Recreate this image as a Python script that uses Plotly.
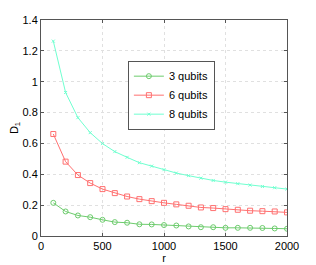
import plotly.graph_objects as go

r = [100, 200, 300, 400, 500, 600, 700, 800, 900, 1000,
     1100, 1200, 1300, 1400, 1500, 1600, 1700, 1800, 1900, 2000]
d3 = [0.215, 0.159, 0.133, 0.122, 0.105, 0.090, 0.086, 0.076, 0.075, 0.071,
      0.068, 0.062, 0.057, 0.057, 0.053, 0.053, 0.053, 0.052, 0.049, 0.047]
d6 = [0.661, 0.482, 0.395, 0.343, 0.304, 0.278, 0.256, 0.239, 0.226, 0.215,
      0.205, 0.196, 0.185, 0.181, 0.174, 0.170, 0.164, 0.161, 0.159, 0.153]
d8 = [1.263, 0.930, 0.767, 0.670, 0.599, 0.547, 0.510, 0.475, 0.453, 0.430,
      0.408, 0.391, 0.375, 0.360, 0.349, 0.339, 0.330, 0.321, 0.313, 0.304]
names = ["3 qubits", "6 qubits", "8 qubits"]
colors = ["#6dcc6d", "#ff7070", "#70ffd0"]
symbols = ["circle-open", "square-open", "x-thin-open"]
sizes = [5, 5, 3]

fig = go.Figure()
for y, n, c, s, sz in zip([d3, d6, d8], names, colors, symbols, sizes):
    fig.add_trace(go.Scatter(x=r, y=y, name=n, mode="lines+markers",
                             line=dict(color=c, width=1),
                             marker=dict(symbol=s, size=sz, color=c,
                                         line=dict(color=c, width=1))))

axis_common = dict(showline=True, linecolor="#555555", linewidth=1, mirror="ticks",
                   ticks="inside", ticklen=3, tickcolor="#555555",
                   showgrid=True, gridcolor="#e0e0e0", griddash="dot", gridwidth=1,
                   zeroline=False, tickfont=dict(size=11, color="black"),
                   automargin=False)

fig.update_layout(
    width=308, height=257,
    margin=dict(l=33, r=29, t=12, b=29),
    paper_bgcolor="white", plot_bgcolor="white",
    font=dict(family="Liberation Sans, Arial, sans-serif", size=11, color="black"),
    xaxis=dict(range=[0, 2000], tickvals=[0, 500, 1000, 1500, 2000],
               title=dict(text="r", standoff=0, font=dict(size=11)), **axis_common),
    yaxis=dict(range=[0, 1.4], tickvals=[0, 0.2, 0.4, 0.6, 0.8, 1, 1.2, 1.4],
               ticktext=["0", "0.2", "0.4", "0.6", "0.8", "1", "1.2", "1.4"],
               title=dict(text="D<sub>1</sub>", standoff=10, font=dict(size=11)),
               **axis_common),
    legend=dict(x=0.53, y=0.652, xanchor="center", yanchor="middle",
                bgcolor="white", bordercolor="#555555", borderwidth=1,
                font=dict(size=11), itemwidth=30, tracegroupgap=0),
    showlegend=True,
)

fig.write_html("out.html")
